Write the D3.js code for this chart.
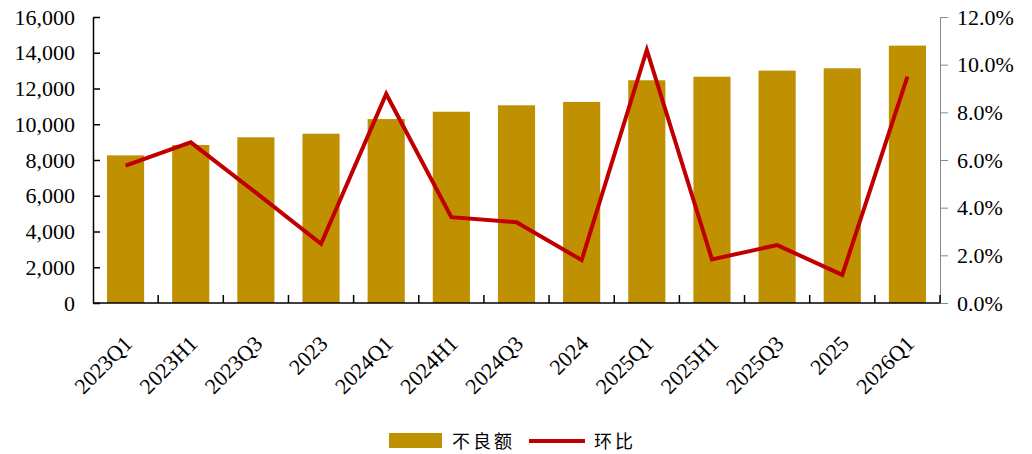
<!DOCTYPE html>
<html>
<head>
<meta charset="utf-8">
<script src="https://cdn.jsdelivr.net/npm/d3@7"></script>
<style>
  body { margin: 0; background: #fff; }
  svg { display: block; }
</style>
</head>
<body>
<svg id="chart"></svg>
<script>
// data
const categories = ["2023Q1","2023H1","2023Q3","2023","2024Q1","2024H1","2024Q3","2024","2025Q1","2025H1","2025Q3","2025","2026Q1"];
const badAmount = [8260, 8840, 9270, 9470, 10290, 10700, 11060, 11250, 12460, 12660, 13000, 13130, 14400];
const qoq = [0.0576, 0.0674, 0.0463, 0.0248, 0.0877, 0.0360, 0.0339, 0.0180, 0.1062, 0.0183, 0.0243, 0.0118, 0.0950];
const leftTicks = [0, 2000, 4000, 6000, 8000, 10000, 12000, 14000, 16000];
const rightTicks = [0, 0.02, 0.04, 0.06, 0.08, 0.10, 0.12];
const barName = "不良额";
const lineName = "环比";

var width = 1032;
var height = 454;
var marginTop = 17;
var marginRight = 92;
var marginBottom = 151;
var marginLeft = 93;
var barColor = "#BF9000";
var lineColor = "#C00000";
var serif = "'Liberation Serif', 'Times New Roman', serif";

const svg = d3.select("#chart")
    .attr("width", width)
    .attr("height", height)
    .attr("viewBox", [0, 0, width, height]);

const x = d3.scaleBand()
    .domain(categories)
    .range([marginLeft, width - marginRight])
    .paddingInner(0.43)
    .paddingOuter(0.215);

const yLeft = d3.scaleLinear()
    .domain([0, 16000])
    .range([height - marginBottom, marginTop]);

const yRight = d3.scaleLinear()
    .domain([0, 0.12])
    .range([height - marginBottom, marginTop]);

// bars
svg.append("g")
    .selectAll("rect")
    .data(badAmount)
    .join("rect")
      .attr("x", (d, i) => x(categories[i]))
      .attr("y", d => yLeft(d))
      .attr("width", x.bandwidth())
      .attr("height", d => yLeft(0) - yLeft(d))
      .attr("fill", barColor);

// left axis (ticks inside)
svg.append("g")
    .attr("transform", `translate(${marginLeft},0)`)
    .call(d3.axisLeft(yLeft).tickValues(leftTicks).tickFormat(d3.format(",")).tickSize(-7).tickSizeOuter(0).tickPadding(18))
    .call(g => g.select(".domain").attr("stroke", "#000").attr("stroke-width", 1.5))
    .call(g => g.selectAll(".tick line").attr("stroke", "#000").attr("stroke-width", 1.5))
    .call(g => g.selectAll("text").attr("font-family", serif).attr("font-size", 22).attr("fill", "#000"));

// right axis (gray)
svg.append("g")
    .attr("transform", `translate(${width - marginRight},0)`)
    .call(d3.axisRight(yRight).tickValues(rightTicks).tickFormat(d3.format(".1%")).tickSize(8).tickSizeOuter(0).tickPadding(9))
    .call(g => g.select(".domain").attr("stroke", "#888"))
    .call(g => g.selectAll(".tick line").attr("stroke", "#888"))
    .call(g => g.selectAll("text").attr("font-family", serif).attr("font-size", 22).attr("fill", "#000"));

// bottom axis: line, ticks between categories, rotated labels
const bottom = svg.append("g");
bottom.append("line")
    .attr("x1", marginLeft).attr("x2", width - marginRight)
    .attr("y1", yLeft(0)).attr("y2", yLeft(0))
    .attr("stroke", "#000").attr("stroke-width", 1.5);
bottom.selectAll(".sep")
    .data(categories)
    .join("line")
      .attr("class", "sep")
      .attr("x1", d => x(d) + x.bandwidth() + (x.step() - x.bandwidth()) / 2)
      .attr("x2", d => x(d) + x.bandwidth() + (x.step() - x.bandwidth()) / 2)
      .attr("y1", yLeft(0))
      .attr("y2", yLeft(0) - 8)
      .attr("stroke", "#000").attr("stroke-width", 1.5);
bottom.selectAll("text")
    .data(categories)
    .join("text")
      .attr("transform", d => `translate(${x(d) + x.bandwidth() / 2 + 8},${yLeft(0) + 42}) rotate(-45)`)
      .attr("text-anchor", "end")
      .attr("font-family", serif)
      .attr("font-size", 22)
      .attr("fill", "#000")
      .text(d => d);

// line
const line = d3.line()
    .x((d, i) => x(categories[i]) + x.bandwidth() / 2)
    .y(d => yRight(d));

svg.append("path")
    .datum(qoq)
    .attr("fill", "none")
    .attr("stroke", lineColor)
    .attr("stroke-width", 4)
    .attr("d", line);

// legend
const legend = svg.append("g");
legend.append("rect")
    .attr("x", 389).attr("y", 433)
    .attr("width", 53).attr("height", 15)
    .attr("fill", barColor);
legend.append("text")
    .attr("x", 452).attr("y", 448)
    .attr("font-family", "'Noto Sans CJK SC', sans-serif")
    .attr("font-size", 18)
    .attr("letter-spacing", 3)
    .attr("fill", "#000")
    .text(barName);
legend.append("line")
    .attr("x1", 529).attr("x2", 585)
    .attr("y1", 441).attr("y2", 441)
    .attr("stroke", lineColor).attr("stroke-width", 4);
legend.append("text")
    .attr("x", 594).attr("y", 448)
    .attr("font-family", "'Noto Sans CJK SC', sans-serif")
    .attr("font-size", 18)
    .attr("letter-spacing", 3)
    .attr("fill", "#000")
    .text(lineName);
</script>
</body>
</html>
